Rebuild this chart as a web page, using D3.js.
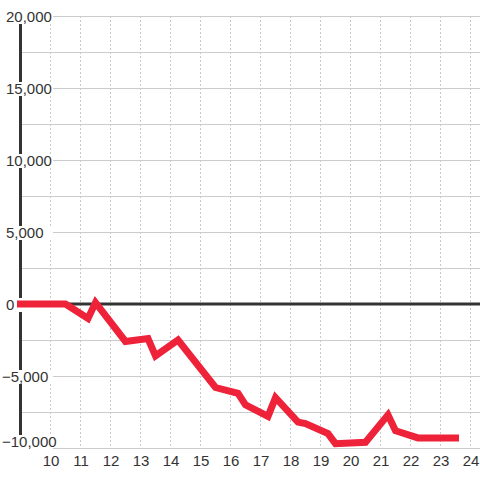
<!DOCTYPE html>
<html>
<head>
<meta charset="utf-8">
<script src="https://cdn.jsdelivr.net/npm/d3@7"></script>
<style>
  html, body { margin: 0; padding: 0; background: #fff; }
  svg { display: block; font-family: "Liberation Sans", Arial, sans-serif; }
</style>
</head>
<body>
<svg id="chart" width="480" height="480"></svg>
<script>
// ---- data ----
const hours = [9, 10.5, 11.25, 11.5, 12.5, 13.25, 13.5, 14.25, 15.5, 16.25, 16.5, 17.25, 17.5, 18.25, 18.5, 19.25, 19.5, 20.5, 21.25, 21.5, 22.25, 23.5];
const values = [0, 0, -1000, 100, -2600, -2400, -3600, -2500, -5800, -6200, -7000, -7800, -6500, -8200, -8300, -9000, -9700, -9600, -7700, -8800, -9300, -9300];
const xTicks = [10, 11, 12, 13, 14, 15, 16, 17, 18, 19, 20, 21, 22, 23, 24];
const yGrid = [-10000, -7500, -5000, -2500, 0, 2500, 5000, 7500, 10000, 12500, 15000, 17500, 20000];
const yLabels = [-10000, -5000, 0, 5000, 10000, 15000, 20000];

const svg = d3.select("#chart");
const W = 480, H = 480;

const x = d3.scaleLinear().domain([9, 24]).range([20.5, 470.5]);
const y = d3.scaleLinear().domain([-10000, 20000]).range([448, 16]);
const fmt = d3.format(",");

// vertical dashed grid
svg.append("g").selectAll("line").data(xTicks).join("line")
  .attr("x1", d => Math.floor(x(d)) + 0.5).attr("x2", d => Math.floor(x(d)) + 0.5)
  .attr("y1", y(20000)).attr("y2", y(-10000))
  .attr("stroke", "#c8c8c8").attr("stroke-width", 1).attr("stroke-dasharray", "2,2");

// horizontal grid
svg.append("g").selectAll("line").data(yGrid).join("line")
  .attr("x1", x(9)).attr("x2", W)
  .attr("y1", d => Math.round(y(d)) + 0.5).attr("y2", d => Math.round(y(d)) + 0.5)
  .attr("stroke", "#cccccc").attr("stroke-width", 1);

// zero line
svg.append("line")
  .attr("x1", x(9)).attr("x2", W)
  .attr("y1", y(0)).attr("y2", y(0))
  .attr("stroke", "#333").attr("stroke-width", 3);

// y axis line
svg.append("line")
  .attr("x1", x(9)).attr("x2", x(9))
  .attr("y1", y(20000)).attr("y2", y(-10000))
  .attr("stroke", "#333").attr("stroke-width", 3);

// y labels with background
const lab = svg.append("g").selectAll("g").data(yLabels).join("g")
  .attr("transform", d => `translate(0,${Math.min(y(d) + 1, 442)})`);
lab.append("rect")
  .attr("x", 0).attr("y", -7).attr("width", 53).attr("height", 14)
  .attr("fill", "#fff");
lab.append("text")
  .attr("x", d => d < 0 ? 2 : 6)
  .attr("dy", "0.35em")
  .attr("font-size", 15)
  .attr("fill", "#333")
  .text(d => fmt(d));

// x labels
svg.append("g").selectAll("text").data(xTicks).join("text")
  .attr("x", d => x(d) + 0.5).attr("y", 466)
  .attr("text-anchor", "middle")
  .attr("font-size", 15)
  .attr("fill", "#333")
  .text(d => d);

// data line
const line = d3.line().x((d, i) => x(hours[i])).y(d => y(d));
svg.append("path")
  .datum(values)
  .attr("d", line)
  .attr("fill", "none")
  .attr("stroke", "#ee2239")
  .attr("stroke-width", 7)
  .attr("stroke-linecap", "square")
  .attr("stroke-linejoin", "miter");
</script>
</body>
</html>
